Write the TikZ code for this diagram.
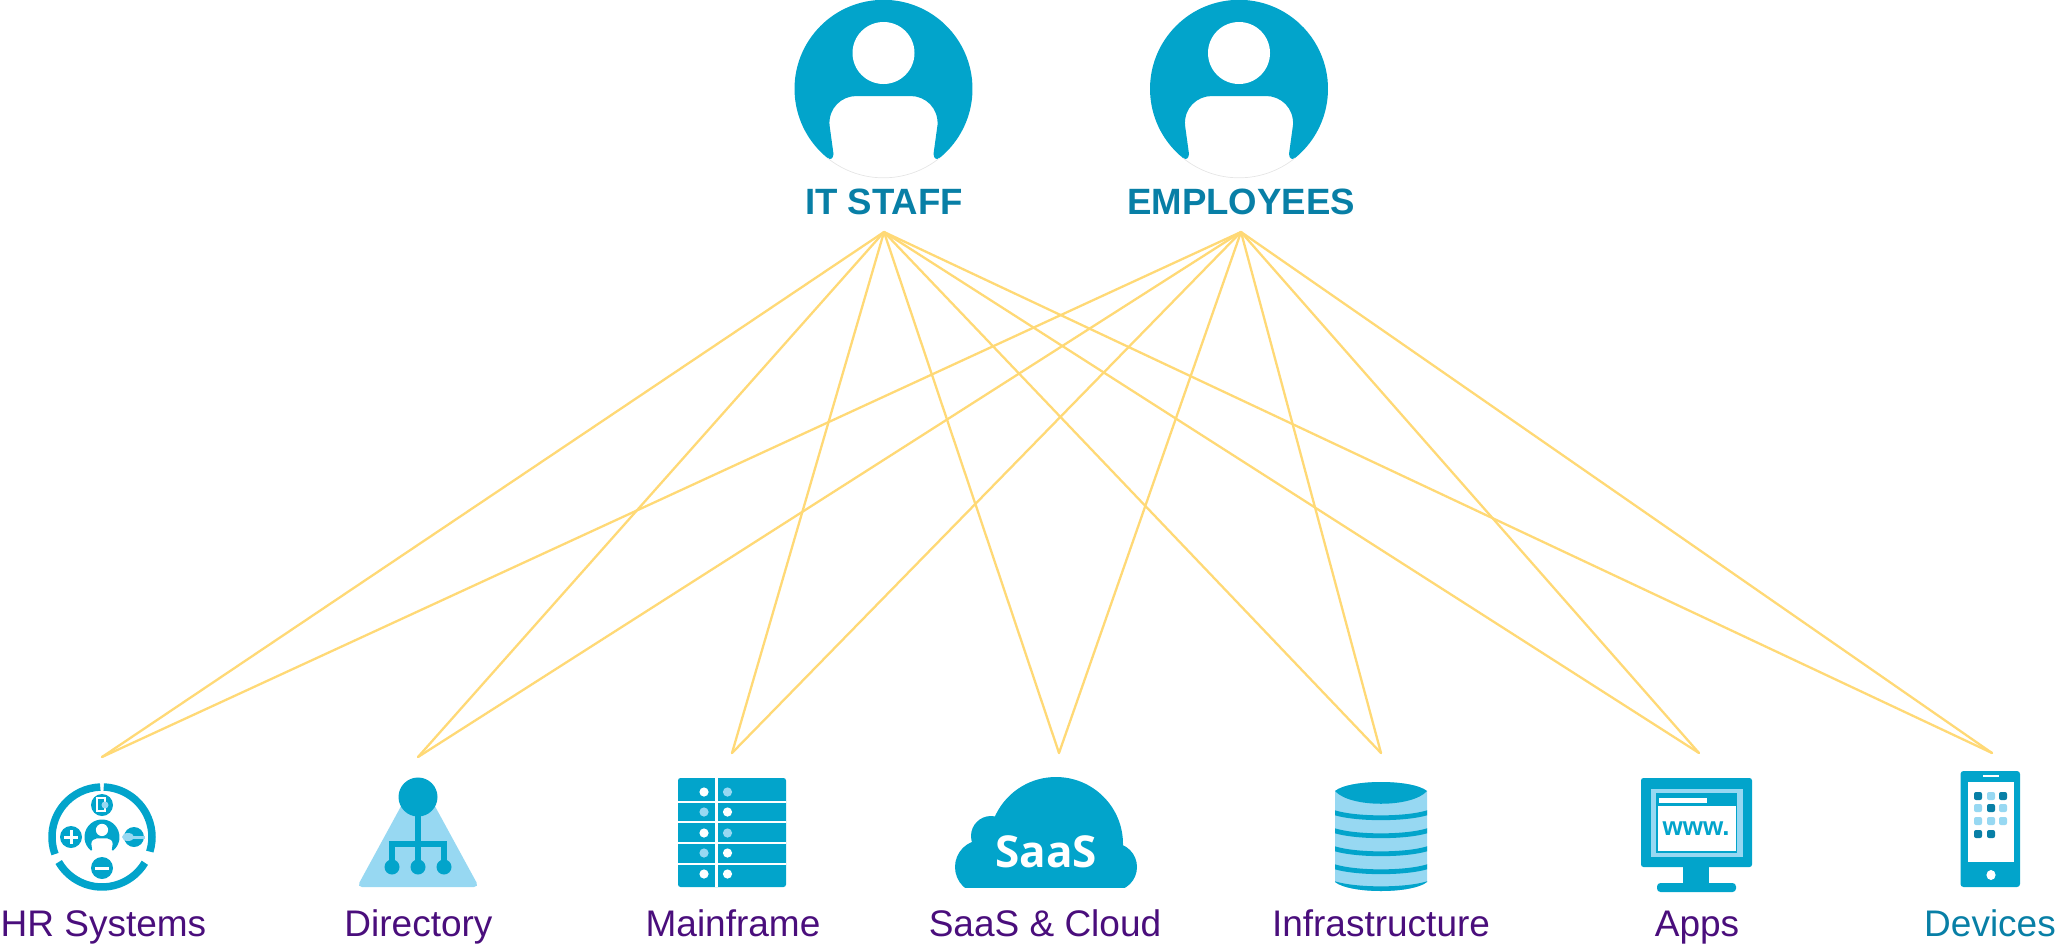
\documentclass[tikz,border=0pt]{standalone}
\usepackage{fontspec}
\setmainfont{Liberation Sans}
\newfontfamily\saasfont{Open Sans}
\definecolor{iconblue}{HTML}{02A4CB}
\definecolor{iconlight}{HTML}{97D8F2}
\definecolor{headteal}{HTML}{087FA6}
\definecolor{labelpurple}{HTML}{4A0E7C}
\definecolor{linkyellow}{HTML}{FFD976}
\tikzset{
  link/.style={draw=linkyellow,line width=2.3pt,line cap=round,line join=round},
  rolelabel/.style={anchor=base,inner sep=0pt,text=headteal,font=\bfseries\fontsize{36.6}{36.6}\selectfont},
  syslabel/.style={anchor=base,inner sep=0pt,text=labelpurple,font=\fontsize{37}{37}\selectfont},
  devlabel/.style={syslabel,text=headteal},
  blue/.style={fill=iconblue,draw=none},
  light/.style={fill=iconlight,draw=none},
  white/.style={fill=white,draw=none},
  personshape/.pic={
    \fill[iconblue] (-56,158) arc (129:411:89)
      .. controls (53,160) and (50.5,159) .. (50,154) -- (54,125)
      .. controls (55,108) and (42,96) .. (27,96) -- (-27,96)
      .. controls (-42,96) and (-55,108) .. (-54,125) -- (-50,154)
      .. controls (-50.5,159) and (-53,160) .. (-56,158) -- cycle;
    \fill[white] (0,53) ellipse [x radius=31,y radius=31];
  },
  avatar/.pic={
    \pic {personshape};
    \draw[black!10,line width=.7pt] (56,158) arc (51:129:89);
  }
}
\begin{document}
\begin{tikzpicture}[x=1pt,y=-1pt]
\useasboundingbox (0,0) rectangle (2056,945);
% anchors of the connectors
\coordinate (itstaffhub) at (884,232);
\coordinate (employeeshub) at (1241,232);
\coordinate (hrend) at (102,757);
\coordinate (directoryend) at (418,757);
\coordinate (mainframeend) at (732,753);
\coordinate (saasend) at (1059,753);
\coordinate (infraend) at (1381,753);
\coordinate (appsend) at (1699,753);
\coordinate (devicesend) at (1992,753);
\foreach \hub in {itstaffhub,employeeshub}
  \foreach \target in {hrend,directoryend,mainframeend,saasend,infraend,appsend,devicesend}
    \draw[link] (\hub) -- (\target);
% people
\pic (itstaffavatar) at (883.5,0) {avatar};
\pic (employeesavatar) at (1239,0) {avatar};
\node[rolelabel] (itstafflabel) at (884,214) {IT STAFF};
\node[rolelabel] (employeeslabel) at (1241,214) {EMPLOYEES};
% HR systems icon
\begin{scope}[shift={(102,837)}]
  \draw[iconblue,line width=7.5pt] (272:50) arc (272:377:50);
  \draw[iconblue,line width=7.5pt] (31:50) arc (31:150:50);
  \draw[iconblue,line width=7.5pt] (160:50) arc (160:268:50);
  \fill[blue] (0,-32) circle (11);
  \fill[white] (-6,-40) rectangle (4,-25);
  \fill[blue] (-4,-38) rectangle (2,-27);
  \fill[iconlight] (3,-32) circle (3.5);
  \fill[blue] (-31,0) circle (11);
  \fill[white] (-38,-1.5) rectangle (-24,1.5);
  \fill[white] (-32.5,-7) rectangle (-29.5,7);
  \fill[blue] (32,0) circle (10);
  \fill[light] (26,0) ellipse [x radius=6,y radius=4];
  \fill[light] (26,-1.5) rectangle (43,1.5);
  \fill[blue] (0,31) circle (11);
  \fill[white] (-7,29.5) rectangle (7,32.5);
  \pic[scale=.197] at (0,-17.5) {personshape};
\end{scope}
\node[syslabel] (hrlabel) at (103.5,936) {HR Systems};
% directory icon
\fill[light,rounded corners=5pt] (418,775) -- (357,887) -- (479,887) -- cycle;
\fill[blue] (418,797) circle (19.5);
\fill[blue] (415,800) rectangle (421,868);
\fill[blue] (389,841) rectangle (447,847);
\fill[blue] (389,841) rectangle (395,868);
\fill[blue] (441,841) rectangle (447,868);
\foreach \x in {392,418,444} \fill[blue] (\x,867) circle (7.5);
\node[syslabel] (directorylabel) at (418.5,936) {Directory};
% mainframe icon
\fill[blue,rounded corners=2.5pt] (678,778) rectangle (786,887);
\foreach \y in {802,822,843,864} \fill[white] (678,\y-.9) rectangle (786,\y+.9);
\fill[white] (714.5,778) rectangle (717.5,887);
\foreach \y/\a/\b in {792/white/iconlight,812/iconlight/white,833/white/iconlight,853/iconlight/white,874/white/white}{
  \fill[\a] (704,\y) circle (4.6);
  \fill[\b] (727.5,\y) circle (4.6);
}
\node[syslabel] (mainframelabel) at (733,936) {Mainframe};
% SaaS cloud icon
\begin{scope}
  \clip (940,770) rectangle (1150,887);
  \fill[blue] (1056,844) circle (67);
  \fill[blue] (991,836) circle (20);
  \fill[blue] (982,867) circle (27);
  \fill[blue] (1113,867) circle (24);
  \fill[blue] (982,850) rectangle (1113,890);
\end{scope}
\node[inner sep=0pt,anchor=base,text=white,font=\saasfont\bfseries\fontsize{44}{44}\selectfont] (saasmark) at (1046,867) {SaaS};
\node[syslabel] (saaslabel) at (1045,936) {SaaS \& Cloud};
% infrastructure icon
\begin{scope}
  \clip (1335,791) .. controls (1350,779) and (1412,779) .. (1427,791) -- (1427,882)
     .. controls (1412,894) and (1350,894) .. (1335,882) -- cycle;
  \fill[light] (1330,775) rectangle (1432,895);
  \foreach \y in {811,829,847,865,882}
    \draw[iconblue,line width=4.8pt] (1330,\y) .. controls (1350,\y+9) and (1412,\y+9) .. (1432,\y);
\end{scope}
\fill[blue] (1335,791) .. controls (1350,779) and (1412,779) .. (1427,791) .. controls (1412,808) and (1350,808) .. cycle;
\node[syslabel] (infralabel) at (1381,936) {Infrastructure};
% apps icon
\fill[blue,rounded corners=2.5pt] (1641,778) rectangle (1752,867);
\fill[light] (1651,789) rectangle (1742.5,857);
\fill[blue] (1656,793) rectangle (1737,853);
\fill[white] (1657.5,806) rectangle (1735.5,851);
\fill[white] (1659,798) rectangle (1706.5,802.5);
\fill[blue] (1683,865) rectangle (1709,885);
\fill[blue,rounded corners=3.5pt] (1657,883) rectangle (1736,892);
\node[inner sep=0pt,anchor=base,text=iconblue,font=\bfseries\fontsize{26}{26}\selectfont] (wwwmark) at (1696,835) {www.};
\node[syslabel] (appslabel) at (1697,936) {Apps};
% devices icon
\fill[blue,rounded corners=3pt] (1960.5,771) rectangle (2020,887);
\fill[white] (1983,775) rectangle (1999,777);
\fill[white] (1968,782) rectangle (2013.5,862);
\fill[white] (1991,875) ellipse [x radius=4.6,y radius=5];
\foreach \x/\y/\c in {1978/796/headteal,1991/796/iconlight,2003/796/headteal,
                      1978/808/iconlight,1991/808/headteal,2003/808/iconlight,
                      1978/821/iconlight,1991/821/iconlight,2003/821/iconlight,
                      1978/834/headteal,1991/834/headteal}
  \fill[\c,rounded corners=2pt] (\x-4,\y-4) rectangle (\x+4,\y+4);
\node[devlabel] (deviceslabel) at (1990,936) {Devices};
\end{tikzpicture}
\end{document}
